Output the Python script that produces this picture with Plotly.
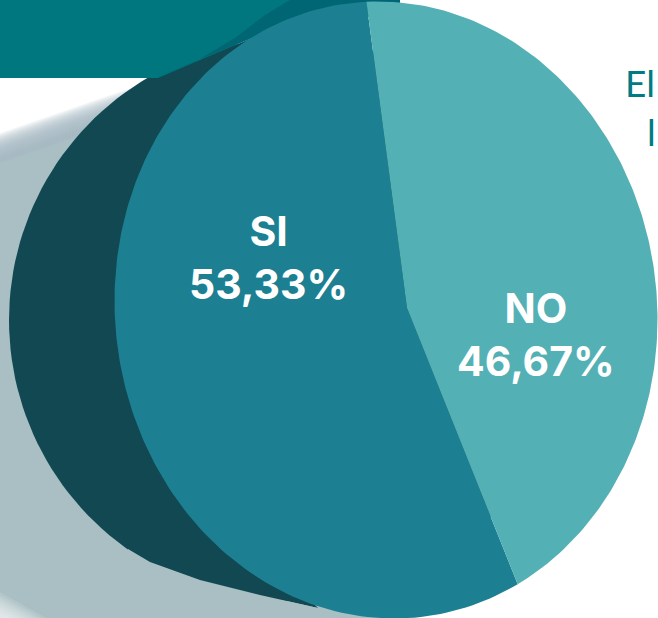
import math
import plotly.graph_objects as go

categories = ["SI", "NO"]
values = [53.33, 46.67]
slice_colors = ["#1c7f92", "#53b0b5"]
label_pos = [(268, 257), (536, 334)]

W, H = 658, 618
APEX = (407, 308)
CENTER = (386, 310)
A, B, TILT = 271, 309, math.radians(6.5)
ROTATION = -6.2   # clockwise degrees where the NO slice starts
STRETCH = 1.22    # horizontal perspective stretch of the slice angles

TEAL, BACK, SHADOW = "#00767f", "#114852", "#a9bfc3"
TEAL_DARK = "#006673"


def rim(deg):
    """Point where a ray from the apex meets the tilted front ellipse."""
    th = math.radians(deg)
    dx, dy = STRETCH * math.sin(th), -math.cos(th)
    px, py = APEX[0] - CENTER[0], APEX[1] - CENTER[1]
    c, s = math.cos(TILT), math.sin(TILT)
    du, dv = (dx * c - dy * s) / A, (dx * s + dy * c) / B
    pu, pv = (px * c - py * s) / A, (px * s + py * c) / B
    qa, qb, qc = du**2 + dv**2, 2 * (du * pu + dv * pv), pu**2 + pv**2 - 1
    t = (-qb + math.sqrt(qb**2 - 4 * qa * qc)) / (2 * qa)
    return APEX[0] + t * dx, APEX[1] + t * dy


def wedge(start, sweep):
    steps = max(2, int(sweep))
    pts = [rim(start + sweep * i / steps) for i in range(steps + 1)]
    return [APEX[0]] + [p[0] for p in pts] + [APEX[0]], [APEX[1]] + [p[1] for p in pts] + [APEX[1]]


def poly(xs, ys, color, opacity=1.0):
    return go.Scatter(x=xs, y=ys, mode="lines", fill="toself", fillcolor=color, opacity=opacity,
                      line=dict(width=0), hoverinfo="skip", showlegend=False)


fig = go.Figure()

# Soft-edged shadow: stacked translucent layers
for i in range(30):
    fig.add_trace(poly([0, 130, 385, 385, 0], [133 + i, 88 + i, 300, H, H], SHADOW, 0.1))
fig.add_trace(poly([0, 130, 385, 385, 0], [163, 118, 300, H, H], SHADOW))
for i in range(8):
    fig.add_trace(poly([0, 46 - i * 5, 0], [H - 26 + i * 3, H, H], "#ffffff", 0.12))

# Back face of the cylinder, with its lower edge flattened into a tail
back_cx, back_cy, back_r = 290, 320, 281
angles = [math.radians(d) for d in range(0, 361, 2)]
fig.add_trace(poly([back_cx + back_r * math.cos(a) for a in angles],
                   [back_cy + back_r * math.sin(a) for a in angles], BACK))
fig.add_trace(poly([158, 268, 240], [78, 31, 90], BACK))
fig.add_trace(poly([260, 318, 300], [595, 608, 590], BACK))
fig.add_trace(poly([128, 150, 200, 260, 318, 345, 128],
                   [549, 562, 580, 595, 608, 618, 618], SHADOW))

# Banner, cut along the top of the back face
fig.add_trace(poly([0, 400, 400, 268, 158, 0], [0, 0, 12, 31, 78, 78], TEAL))
fig.add_trace(poly([155, 195, 235, 265, 290, 400, 400, 268],
                   [78, 62, 38, 15, 0, 0, 12, 31], TEAL_DARK))

# Slices, angles derived from the values
no_sweep = values[1] / sum(values) * 360
si_sweep = values[0] / sum(values) * 360
for (start, sweep, color) in [(ROTATION + no_sweep, si_sweep, slice_colors[0]),
                              (ROTATION, no_sweep, slice_colors[1])]:
    xs, ys = wedge(start, sweep)
    fig.add_trace(poly(xs, ys, color))

annotations = []
for cat, val, (lx, ly) in zip(categories, values, label_pos):
    annotations.append(dict(x=lx, y=ly, xref="x", yref="y", showarrow=False, align="center",
                            text=f"<b>{cat}<br>{val:.2f}%</b>".replace(".", ","),
                            font=dict(family="Inter", size=41, color="white")))
annotations.append(dict(x=623, y=82, xref="x", yref="y", xanchor="left", showarrow=False,
                        text="El", font=dict(family="Lato", size=37, color="#007a85")))
annotations.append(dict(x=658, y=131, xref="x", yref="y", xanchor="right", showarrow=False,
                        text="l", font=dict(family="Lato", size=37, color="#007a85")))

fig.update_layout(width=W, height=H, margin=dict(l=0, r=0, t=0, b=0), autosize=False,
                  paper_bgcolor="white", plot_bgcolor="white", showlegend=False,
                  annotations=annotations,
                  xaxis=dict(range=[0, W], visible=False, fixedrange=True),
                  yaxis=dict(range=[H, 0], visible=False, fixedrange=True))

fig.write_html("out.html", config={"displayModeBar": False},
               post_script="document.body.style.margin='0';document.body.style.overflow='hidden';")
